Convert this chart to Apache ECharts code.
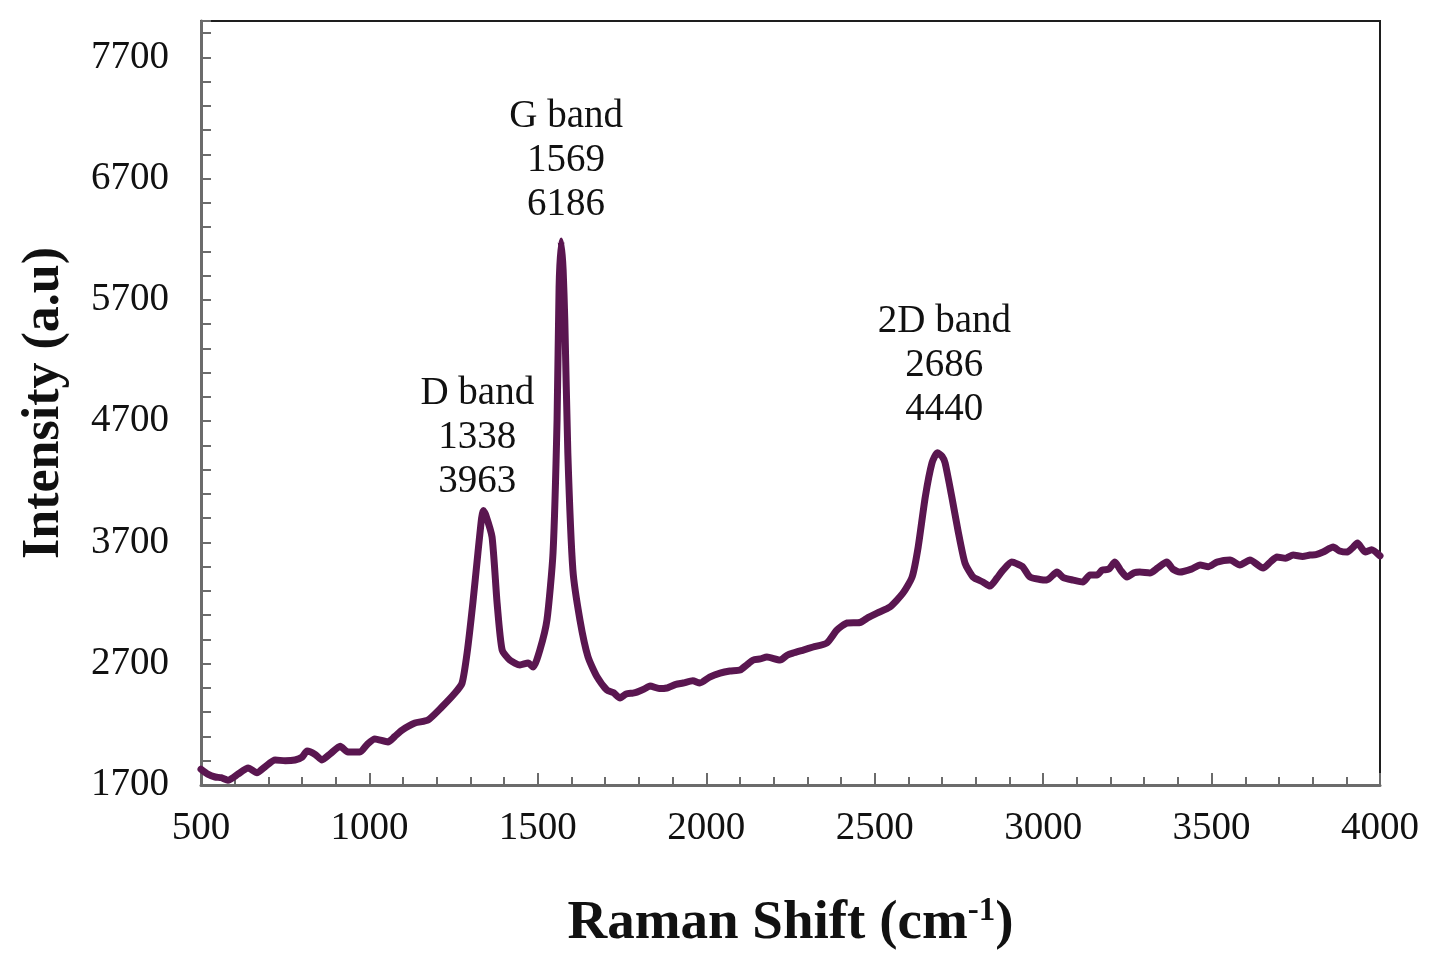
<!DOCTYPE html>
<html>
<head>
<meta charset="utf-8">
<title>Raman spectrum</title>
<script src="https://cdn.jsdelivr.net/npm/echarts@6.0.0/dist/echarts.min.js"></script>
<style>
  html, body { margin: 0; padding: 0; background: #fff; }
  #chart { width: 1447px; height: 953px; }
</style>
</head>
<body>
<div id="chart"></div>
<script>
// Raman shift (cm-1) and intensity (a.u)
const ramanShift = [
  500, 520, 542, 560, 580, 610, 640, 666, 690, 720, 750, 779, 800, 815, 840, 859, 885, 913, 936, 972,
  995, 1016, 1055, 1075, 1097, 1135, 1174, 1215, 1254, 1275, 1290, 1307, 1322, 1333, 1338, 1345, 1364, 1379, 1394, 1417,
  1447, 1471, 1486, 1506, 1527, 1545, 1557, 1563, 1569, 1575, 1580, 1589, 1604, 1625, 1649, 1676, 1705, 1725, 1744, 1762,
  1782, 1794, 1815, 1833, 1860, 1883, 1910, 1931, 1960, 1981, 2010, 2041, 2070, 2100, 2120, 2139, 2160, 2180, 2219, 2240,
  2257, 2290, 2317, 2358, 2388, 2418, 2456, 2480, 2507, 2545, 2584, 2611, 2629, 2650, 2670, 2686, 2700, 2709, 2729, 2747,
  2768, 2792, 2821, 2842, 2863, 2881, 2907, 2925, 2940, 2961, 2990, 3011, 3041, 3060, 3089, 3118, 3139, 3160, 3175, 3195,
  3213, 3230, 3249, 3270, 3287, 3317, 3340, 3367, 3385, 3406, 3440, 3466, 3490, 3516, 3555, 3584, 3614, 3653, 3675, 3694,
  3720, 3742, 3770, 3792, 3810, 3831, 3861, 3880, 3903, 3920, 3933, 3956, 3975, 4000
];
const intensity = [
  1830, 1790, 1766, 1760, 1740, 1790, 1840, 1800, 1850, 1906, 1900, 1906, 1930, 1980, 1950, 1906, 1960, 2020, 1972, 1972,
  2040, 2080, 2055, 2100, 2153, 2211, 2236, 2343, 2458, 2540, 2790, 3200, 3612, 3900, 3963, 3930, 3745, 3200, 2813, 2730,
  2690, 2706, 2673, 2813, 3060, 3612, 4709, 5805, 6186, 5950, 5533, 4437, 3472, 3060, 2755, 2590, 2483, 2460, 2417, 2450,
  2458, 2466, 2490, 2516, 2495, 2500, 2530, 2541, 2560, 2541, 2590, 2623, 2640, 2648, 2690, 2730, 2740, 2755, 2730, 2770,
  2788, 2815, 2838, 2871, 2978, 3036, 3040, 3080, 3118, 3167, 3283, 3415, 3662, 4074, 4355, 4440, 4410, 4355, 4074, 3802,
  3530, 3415, 3374, 3340, 3407, 3472, 3538, 3520, 3497, 3415, 3395, 3390, 3456, 3410, 3390, 3374, 3431, 3431, 3472, 3480,
  3538, 3470, 3415, 3450, 3456, 3448, 3490, 3538, 3480, 3456, 3480, 3514, 3500, 3538, 3555, 3514, 3555, 3489, 3540, 3580,
  3570, 3596, 3585, 3596, 3600, 3621, 3662, 3630, 3621, 3660, 3695, 3621, 3640, 3590
];

// peak annotations
const bandNames = ['D band', 'G band', '2D band'];
const bandShifts = [1338, 1569, 2686];
const bandIntensities = [3963, 6186, 4440];

// y axis ticks: labels every 1000 starting at 1700
const yMin = 1700;
const yMax = 8000;
const yTickStep = 200;
const yLabelStep = 1000;

const serif = "'Liberation Serif', 'Times New Roman', serif";
const lineColor = '#5a1650';
const axisGray = '#6b6b6b';

const chart = echarts.init(document.getElementById('chart'));

const labelLayout = [
  { distance: 6, offset: [-6, 0] },
  { distance: 14, offset: [5, 0] },
  { distance: 20, offset: [7, 0] }
];

const option = {
  backgroundColor: '#fff',
  animation: false,
  grid: {
    left: 201, right: 67, top: 21, bottom: 168,
    containLabel: false,
    outerBoundsMode: 'none',
    show: true,
    borderColor: '#1e1e1e',
    borderWidth: 2
  },
  xAxis: {
    type: 'value',
    min: 500,
    max: 4000,
    interval: 500,
    name: 'Raman Shift (cm{sup|-1})',
    nameLocation: 'middle',
    nameGap: 110,
    nameTextStyle: {
      fontFamily: serif, fontSize: 55, fontWeight: 'bold', color: '#111',
      rich: {
        sup: { fontFamily: serif, fontSize: 33, fontWeight: 'bold', color: '#111', verticalAlign: 'top', padding: [0, 0, 24, 0] }
      }
    },
    axisLine: { lineStyle: { color: axisGray, width: 3 } },
    axisTick: { inside: true, length: 12, lineStyle: { color: axisGray, width: 2 } },
    minorTick: { show: true, splitNumber: 5, length: 8, lineStyle: { color: axisGray, width: 2 } },
    splitLine: { show: false },
    axisLabel: { margin: 24, fontFamily: serif, fontSize: 39, color: '#111', formatter: v => String(v) }
  },
  yAxis: [
    {
      // data axis
      type: 'value',
      min: yMin,
      max: yMax,
      show: false
    },
    {
      // display axis, counted from yMin so ticks land on 1700, 1900, ...
      type: 'value',
      min: 0,
      max: yMax - yMin,
      interval: yTickStep,
      position: 'left',
      name: 'Intensity (a.u)',
      nameLocation: 'middle',
      nameGap: 130,
      nameTextStyle: { fontFamily: serif, fontSize: 52, fontWeight: 'bold', color: '#111' },
      axisLine: { show: true, lineStyle: { color: axisGray, width: 3 } },
      axisTick: { inside: true, length: 10, lineStyle: { color: axisGray, width: 2 } },
      splitLine: { show: false },
      axisLabel: {
        margin: 32,
        fontFamily: serif,
        fontSize: 39,
        color: '#111',
        formatter: v => (v % yLabelStep === 0 ? String(v + yMin) : '')
      }
    }
  ],
  series: [
    {
      type: 'line',
      yAxisIndex: 0,
      data: ramanShift.map((x, i) => [x, intensity[i]]),
      showSymbol: false,
      smooth: 0.2,
      lineStyle: { color: lineColor, width: 7, join: 'round', cap: 'round' },
      markPoint: {
        symbol: 'circle',
        symbolSize: 1,
        itemStyle: { color: 'rgba(0,0,0,0)' },
        data: bandNames.map((name, i) => ({
          coord: [bandShifts[i], bandIntensities[i]],
          label: {
            show: true,
            position: 'top',
            distance: labelLayout[i].distance,
            offset: labelLayout[i].offset,
            align: 'center',
            fontFamily: serif,
            fontSize: 39,
            lineHeight: 44,
            color: '#111',
            formatter: name + '\n' + bandShifts[i] + '\n' + bandIntensities[i]
          }
        }))
      }
    }
  ]
};

chart.setOption(option);
</script>
</body>
</html>
